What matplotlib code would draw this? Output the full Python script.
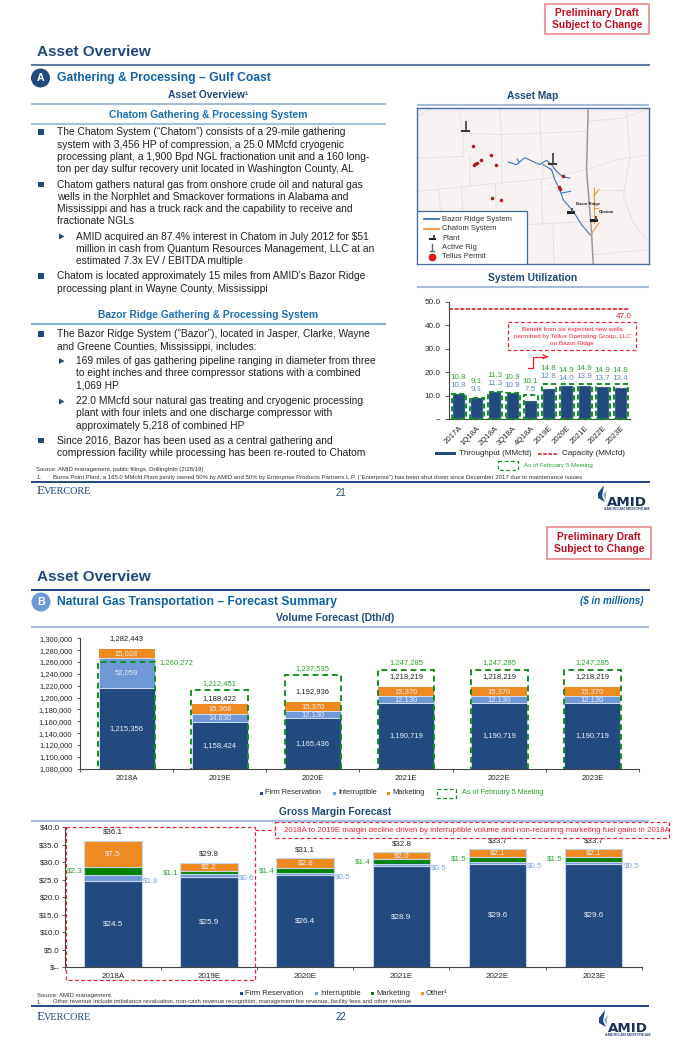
import matplotlib
matplotlib.use("Agg")
import matplotlib.pyplot as plt
from matplotlib.patches import Circle, Polygon, Rectangle

plt.rcParams["font.family"] = ["Liberation Sans", "DejaVu Sans"]

NAVY = "#234a7f"
HEAD = "#1f497d"
TITLE = "#0f62a6"
SUB = "#1b70b3"
GREEN = "#2fa12f"
DGREEN = "#15901f"
RED = "#ee2233"
ORANGE = "#ee8a22"
LBLUE = "#6f98d6"
MGREEN = "#008000"
RULE = "#5d7ea8"
LRULE = "#a7bcd8"
TEXT = "#262626"

# system utilization
util_cats = ["2017A", "1Q18A", "2Q18A", "3Q18A", "4Q18A", "2019E", "2020E", "2021E", "2022E", "2023E"]
util_now = [10.8, 9.1, 11.3, 10.9, 7.5, 12.8, 14.0, 13.9, 13.7, 13.4]
util_feb = [10.8, 9.1, 11.3, 10.9, 10.1, 14.8, 14.9, 14.9, 14.9, 14.8]
util_capacity = 47.0
util_lift = [16.5, 16.5, 16.5, 15.5, 13.5, 16, 14, 16, 14, 14]

# volume forecast
vol_cats = ["2018A", "2019E", "2020E", "2021E", "2022E", "2023E"]
vol_firm = [1215356, 1158424, 1165436, 1190719, 1190719, 1190719]
vol_inter = [52059, 14630, 12130, 12130, 12130, 12130]
vol_mkt = [15028, 15368, 15370, 15370, 15370, 15370]
vol_total = [1282443, 1188422, 1192936, 1218219, 1218219, 1218219]
vol_feb = [1260272, 1212451, 1237535, 1247285, 1247285, 1247285]
vol_lift = [10, 5.5, 10, 10, 10, 10]
vol_ticks = list(range(1080000, 1300001, 20000))

# gross margin
gm_cats = ["2018A", "2019E", "2020E", "2021E", "2022E", "2023E"]
gm_firm = [24.5, 25.9, 26.4, 28.9, 29.6, 29.6]
gm_inter = [1.8, 0.6, 0.5, 0.5, 0.5, 0.5]
gm_mkt = [2.3, 1.1, 1.4, 1.4, 1.5, 1.5]
gm_other = [7.5, 2.2, 2.8, 2.0, 2.1, 2.1]
gm_total = [36.1, 29.8, 31.1, 32.8, 33.7, 33.7]

# map sketch, in map pixels
map_borders = [
    [(52, 80), (100, 55)], [(175, 55), (190, 130), (190, 200), (52, 205)],
    [(190, 130), (300, 135), (420, 130), (560, 125)], [(300, 55), (305, 135), (307, 280)],
    [(420, 55), (422, 130), (430, 265)], [(210, 200), (212, 290)],
    [(52, 305), (300, 280), (430, 268), (556, 240)], [(118, 300), (122, 365)],
    [(185, 295), (190, 365)], [(287, 283), (290, 400), (382, 405), (575, 395)],
    [(425, 268), (428, 400)], [(460, 405), (462, 523)], [(565, 95), (672, 85), (740, 60)],
    [(680, 60), (690, 200), (670, 320), (700, 400), (748, 460)],
    [(560, 240), (650, 210), (748, 195)], [(580, 495), (748, 480)], [(600, 300), (670, 300)],
]
map_gray = [(565, 55), (560, 240), (575, 430), (580, 523)]
map_bazor = [
    [(325, 217), (350, 225), (375, 204), (420, 225), (440, 212), (455, 225), (470, 245), (490, 262), (510, 265)],
    [(430, 225), (455, 240), (465, 270), (480, 300), (490, 330), (520, 365), (545, 405), (572, 437)],
    [(485, 310), (512, 305)], [(352, 208), (358, 218)],
]
map_chatom = [
    [(572, 437), (597, 400)], [(582, 400), (582, 295)], [(582, 318), (597, 300)], [(582, 355), (595, 355)],
]
map_permit_x = [220, 273, 245, 233, 226, 222, 290, 277, 304, 488, 478, 480]
map_permit_y = [169, 195, 210, 221, 224, 225, 227, 325, 332, 260, 293, 298]
map_rigs = [(198, 115), (458, 212)]
map_plants = [(512, 368), (582, 392)]

body_lines = [
    (132, "The Chatom System (“Chatom”) consists of a 29-mile gathering", 1),
    (144.5, "system with 3,456 HP of compression, a 25.0 MMcfd cryogenic", 0),
    (157, "processing plant, a 1,900 Bpd NGL fractionation unit and a 160 long-", 0),
    (169.5, "ton per day sulfur recovery unit located in Washington County, AL", 0),
    (184.5, "Chatom gathers natural gas from onshore crude oil and natural gas", 1),
    (197, "wells in the Norphlet and Smackover formations in Alabama and", 0),
    (209, "Mississippi and has a truck rack and the capability to receive and", 0),
    (221.5, "fractionate NGLs", 0),
    (236.5, "AMID acquired an 87.4% interest in Chatom in July 2012 for $51", 2),
    (248.5, "million in cash from Quantum Resources Management, LLC at an", 3),
    (261, "estimated 7.3x EV / EBITDA multiple", 3),
    (276, "Chatom is located approximately 15 miles from AMID’s Bazor Ridge", 1),
    (288.5, "processing plant in Wayne County, Mississippi", 0),
    (334, "The Bazor Ridge System (“Bazor”), located in Jasper, Clarke, Wayne", 1),
    (346.5, "and Greene Counties, Mississippi, includes:", 0),
    (361, "169 miles of gas gathering pipeline ranging in diameter from three", 2),
    (373.5, "to eight inches and three compressor stations with a combined", 3),
    (386, "1,069 HP", 3),
    (401.5, "22.0 MMcfd sour natural gas treating and cryogenic processing", 2),
    (413.5, "plant with four inlets and one discharge compressor with", 3),
    (426, "approximately 5,218 of combined HP", 3),
    (440.5, "Since 2016, Bazor has been used as a central gathering and", 1),
    (453, "compression facility while processing has been re-routed to Chatom", 0),
]

fig = plt.figure(figsize=(6.8, 10.5), dpi=100, facecolor="white")


def make_ax(x0, y0, x1, y1):
    return fig.add_axes([x0 / 680, 1 - y1 / 1050, (x1 - x0) / 680, (y1 - y0) / 1050])


def label(ax, txt, x, y, dx=0, dy=0, **kw):
    # dx, dy in pixels, dy up
    kw.setdefault("ha", "center")
    kw.setdefault("va", "center")
    ax.annotate(txt, (x, y), xytext=(dx * 0.72, dy * 0.72), textcoords="offset points",
                annotation_clip=False, **kw)


# page overlay, in pixels
page = make_ax(0, 0, 680, 1050)
page.set_xlim(0, 680)
page.set_ylim(1050, 0)
page.axis("off")
page.set_zorder(5)


def put(x, y, s, size=7.35, color=TEXT, ha="left", weight="normal", **kw):
    page.text(x, y, s, fontsize=size, color=color, ha=ha, va="center", fontweight=weight, **kw)


def rule(x0, x1, y, color=RULE, lw=1.5):
    page.plot([x0, x1], [y, y], color=color, lw=lw, solid_capstyle="butt")


def draft_box(x0, y0, x1, y1):
    page.add_patch(Rectangle((x0, y0), x1 - x0, y1 - y0, fc="white", ec="#e58a8a", lw=1.2))
    mid = (x0 + x1) / 2
    put(mid, y0 + 9.8, "Preliminary Draft", 7.4, "#c00d1e", "center", "bold")
    put(mid, y0 + 22, "Subject to Change", 7.4, "#c00d1e", "center", "bold")


def footer_brand(y, num):
    put(37, y, "E", 9.5, HEAD, family="Liberation Serif")
    put(43.5, y + 0.5, "VERCORE", 7.4, HEAD, family="Liberation Serif")
    put(341, y + 1, num, 7.0, HEAD, "center")


def logo(x, y):
    # flame and wordmark
    page.add_patch(Polygon([(x + 7, y), (x + 1, y + 8), (x + 1, y + 13), (x + 8, y + 17),
                            (x + 5, y + 11), (x + 6, y + 6)], fc=HEAD, ec="none"))
    page.add_patch(Polygon([(x + 10, y + 5), (x + 6, y + 10), (x + 9, y + 15), (x + 9, y + 9)],
                           fc="#8fa9cf", ec="none"))
    put(x + 30, y + 18, "AMID", 9.6, "#1a2f5a", "center", "bold", family="DejaVu Sans")
    put(x + 30, y + 24.5, "AMERICAN MIDSTREAM", 2.8, "#34507c", "center", "bold")


def dash_box(x0, y0, x1, y1, color=DGREEN):
    page.add_patch(Rectangle((x0, y0), x1 - x0, y1 - y0, fc="none", ec=color, lw=0.9, ls=(0, (3, 2))))


# page 1 header
draft_box(545, 3.5, 649, 34)
put(37, 52, "Asset Overview", 11.0, HEAD, weight="bold")
rule(31, 650, 65)
page.add_patch(Circle((40.5, 78), 9.5, fc=NAVY, ec="none"))
put(40.5, 78, "A", 7.6, "white", "center", "bold")
put(57, 78, "Gathering & Processing – Gulf Coast", 8.75, TITLE, weight="bold")
put(208, 95, "Asset Overview¹", 7.4, HEAD, "center", "bold")
rule(31, 386, 104, LRULE)
put(208, 115, "Chatom Gathering & Processing System", 7.4, SUB, "center", "bold")
rule(31, 386, 124, "#9cc5e2")
put(208, 314.5, "Bazor Ridge Gathering & Processing System", 7.4, SUB, "center", "bold")
rule(31, 386, 323.5, "#7fb0d8")
put(533, 96, "Asset Map", 7.4, HEAD, "center", "bold")
rule(417, 649, 105, LRULE)
put(533, 278, "System Utilization", 7.4, HEAD, "center", "bold")
rule(417, 649, 287, LRULE)

for y, s, kind in body_lines:
    if kind == 1:
        page.add_patch(Rectangle((38, y - 3), 5.5, 5.5, fc=NAVY, ec="none"))
    if kind == 2:
        page.add_patch(Polygon([(59, y - 3), (59, y + 3), (64.5, y)], fc=NAVY, ec="none"))
    put(76 if kind >= 2 else 56.7, y, s, color="#222222")

put(36, 470, "Source: AMID management, public filings, DrillingInfo (2/28/19)", 4.3, "#333333")
put(37, 477.5, "1.", 4.3, "#333333")
put(53, 477.5, "Burns Point Plant, a 165.0 MMcfd Plant jointly owned 50% by AMID and 50% by Enterprise Products "
    "Partners L.P. (“Enterprise”) has been shut down since December 2017 due to maintenance issues",
    4.3, "#333333")
rule(31, 650, 481.5, NAVY, 1.4)
footer_brand(491.5, "21")
logo(597, 485)

# map
mp = make_ax(417, 108, 649.3, 264)
mp.set_xlim(52, 748)
mp.set_ylim(523, 55)
mp.set_facecolor("#f7f2f1")
mp.set_xticks([])
mp.set_yticks([])
for s in mp.spines.values():
    s.set_color("#4a6f9f")
    s.set_linewidth(1.0)
for line in map_borders:
    mp.plot([p[0] for p in line], [p[1] for p in line], color="#e4e0e0", lw=0.7)
mp.plot([p[0] for p in map_gray], [p[1] for p in map_gray], color="#9a9a9a", lw=1.1)
for line in map_bazor:
    mp.plot([p[0] for p in line], [p[1] for p in line], color="#3f74b8", lw=0.8)
for line in map_chatom:
    mp.plot([p[0] for p in line], [p[1] for p in line], color="#ee9a3a", lw=0.8)
mp.scatter(map_permit_x, map_permit_y, s=5, color="#d0101c", edgecolor="#7a2020", linewidth=0.3, zorder=4)
for x, y in map_rigs:
    mp.plot([x, x], [y - 18, y + 10], color="#555555", lw=1.4, zorder=4)
    mp.plot([x - 10, x + 10], [y + 10, y + 10], color="#333333", lw=1.4, zorder=4)
for x, y in map_plants:
    mp.add_patch(Rectangle((x - 12, y - 4), 24, 8, fc="#222222", ec="none", zorder=4))
    mp.add_patch(Rectangle((x + 2, y - 14), 6, 12, fc="#555555", ec="none", zorder=4))
mp.text(527, 344, "Bazor Ridge", fontsize=3.0, color="#222222", va="center", fontweight="bold")
mp.text(597, 368, "Chatom", fontsize=3.0, color="#222222", va="center", fontweight="bold")
mp.add_patch(Rectangle((52, 365), 330, 158, fc="white", ec="#3f6aa0", lw=0.9, zorder=5))
mp.plot([72, 118], [389, 389], color="#2f62ad", lw=1.2, zorder=6)
mp.plot([72, 118], [417, 417], color="#ee8a22", lw=1.2, zorder=6)
mp.add_patch(Rectangle((88, 445), 22, 7, fc="#222222", ec="none", zorder=6))
mp.add_patch(Rectangle((100, 436), 6, 10, fc="#555555", ec="none", zorder=6))
mp.plot([97, 97], [462, 482], color="#666666", lw=1, zorder=6)
mp.plot([90, 104], [484, 484], color="#666666", lw=1, zorder=6)
mp.scatter([97], [503], s=26, color="#ee1111", edgecolor="#8a1a1a", linewidth=0.4, zorder=6)
for yy, t in zip([389, 417, 445, 473, 501],
                 ["Bazor Ridge System", "Chatom System", "Plant", "Active Rig", "Tellus Permit"]):
    mp.text(128, yy, t, fontsize=5.5, color="#333333", va="center", zorder=6)

# system utilization
ax1 = make_ax(449, 301.7, 630, 419)
x1 = list(range(len(util_cats)))
ax1.set_xlim(-0.54, 9.52)
ax1.set_ylim(0, 50)
ax1.bar(x1, util_now, width=0.66, color=NAVY, edgecolor="#9fb6d6", linewidth=0.3, zorder=2)
ax1.bar(x1, util_feb, width=0.78, facecolor="none", edgecolor=DGREEN, linewidth=1.4,
        linestyle=(0, (2.6, 1.6)), zorder=3, clip_on=False)
ax1.plot([-0.54, 9.52], [util_capacity, util_capacity], color="#d81420", lw=1.1, ls=(0, (2.6, 1.1)))
for i in x1:
    label(ax1, f"{util_feb[i]:.1f}", i, util_feb[i], dy=util_lift[i], fontsize=5.8, color=GREEN)
    label(ax1, f"{util_now[i]:.1f}", i, util_feb[i], dy=util_lift[i] - 8, fontsize=5.8, color="#6187bd")
label(ax1, f"{util_capacity:.1f}", 9.52, util_capacity, dx=2, dy=-8, fontsize=5.9, color="#cc2233", ha="right")
ax1.set_xticks(x1)
ax1.set_xticklabels(util_cats, rotation=45, ha="right", rotation_mode="anchor", fontsize=5.6, color=TEXT)
ax1.set_yticks([0, 10, 20, 30, 40, 50])
ax1.set_yticklabels(["--", "10.0", "20.0", "30.0", "40.0", "50.0"], fontsize=5.9, color=TEXT)
ax1.tick_params(axis="y", length=3, width=0.6, pad=3, color="#444444")
ax1.tick_params(axis="x", length=0, pad=4)
for s in ["top", "right"]:
    ax1.spines[s].set_visible(False)
ax1.spines["left"].set_color("#444444")
ax1.spines["bottom"].set_color("#444444")
ax1.patch.set_alpha(0)

dash_box(508, 321.7, 636, 350, RED)
for yy, t in zip([329, 336.5, 343.5], ["Benefit from six expected new wells",
                                       "permitted by Tellus Operating Group, LLC", "on Bazor Ridge"]):
    put(572, yy, t, 4.6, RED, "center")
page.plot([527.5, 533, 533, 546], [368, 368, 356.7, 356.7], color=RED, lw=0.9)
page.annotate("", xy=(551, 356.7), xytext=(544, 356.7),
              arrowprops=dict(arrowstyle="->", color=RED, lw=0.9, mutation_scale=7))
page.add_patch(Rectangle((435, 452), 21, 3.4, fc=NAVY, ec="none"))
put(459, 453.7, "Throughput (MMcfd)", 5.8)
page.plot([538, 558], [453.7, 453.7], color="#d81420", lw=1.1, ls=(0, (2.4, 1)))
put(562, 453.7, "Capacity (MMcfd)", 5.8)
dash_box(498, 461, 518, 470)
put(524, 466, "As of February 5 Meeting", 4.4, GREEN)

# page 2 header
draft_box(547, 527, 651, 559)
put(37, 577, "Asset Overview", 11.0, HEAD, weight="bold")
rule(31, 650, 589.5, NAVY, 1.5)
page.add_patch(Circle((41, 602), 9.5, fc=LBLUE, ec="none"))
put(41, 602, "B", 7.6, "white", "center", "bold")
put(57, 602.5, "Natural Gas Transportation – Forecast Summary", 8.75, TITLE, weight="bold")
put(644, 601.5, "($ in millions)", 7.1, TITLE, "right", "bold", style="italic")
put(335, 618, "Volume Forecast (Dth/d)", 7.4, HEAD, "center", "bold")
rule(31, 649, 626.5, LRULE)
put(335, 812, "Gross Margin Forecast", 7.4, HEAD, "center", "bold")
rule(31, 649, 821, LRULE)

# volume forecast
ax2 = make_ax(80, 638.3, 639, 768.7)
x2 = list(range(len(vol_cats)))
ax2.set_xlim(-0.5, 5.5)
ax2.set_ylim(1080000, 1300000)
inter_bottom = [a + b for a, b in zip(vol_firm, vol_inter)]
ax2.bar(x2, vol_firm, width=0.6, color=NAVY, edgecolor="#d8e2f0", linewidth=0.6, zorder=2)
ax2.bar(x2, vol_inter, bottom=vol_firm, width=0.6, color=LBLUE, edgecolor="#d8e2f0", linewidth=0.6, zorder=2)
ax2.bar(x2, vol_mkt, bottom=inter_bottom, width=0.6, color=ORANGE, zorder=2)
ax2.bar(x2, vol_feb, width=0.61, facecolor="none", edgecolor=DGREEN, linewidth=1.4,
        linestyle=(0, (3, 2)), zorder=3)
for i in x2:
    lab = dict(fontsize=5.5, color="#e8eef6")
    label(ax2, f"{vol_firm[i]:,}", i, 1080000 + (vol_firm[i] - 1080000) / 2, **lab)
    label(ax2, f"{vol_inter[i]:,}", i, vol_firm[i] + vol_inter[i] / 2, **lab)
    label(ax2, f"{vol_mkt[i]:,}", i, inter_bottom[i] + vol_mkt[i] / 2, **lab)
    label(ax2, f"{vol_total[i]:,}", i, vol_total[i], dy=vol_lift[i], fontsize=5.5, color="#222222")
    if i == 0:
        label(ax2, f"{vol_feb[i]:,}", i, vol_feb[i], dx=50, dy=-1, fontsize=5.5, color=GREEN)
    else:
        label(ax2, f"{vol_feb[i]:,}", i, vol_feb[i], dy=7, fontsize=5.5, color=GREEN)
ax2.set_yticks(vol_ticks)
ax2.set_yticklabels([f"{v:,}" for v in vol_ticks], fontsize=5.4, color=TEXT)
ax2.set_xticks([i - 0.5 for i in range(7)])
ax2.set_xticklabels([])
ax2.set_xticks(x2, minor=True)
ax2.set_xticklabels(vol_cats, minor=True, fontsize=5.6, color=TEXT)
ax2.tick_params(axis="x", which="minor", length=0, pad=4.5)
ax2.tick_params(axis="x", which="major", length=2.5, width=0.6, color="#444444")
ax2.tick_params(axis="y", length=2.5, width=0.6, pad=3, color="#444444")
for s in ["top", "right"]:
    ax2.spines[s].set_visible(False)
ax2.spines["left"].set_color("#444444")
ax2.spines["bottom"].set_color("#444444")
ax2.patch.set_alpha(0)


def legend_item(x, y, color, s, size=5.3):
    page.add_patch(Rectangle((x - 1.5, y - 1.5), 3, 3, fc=color, ec="none"))
    put(x + 4, y, s, size)


legend_item(261, 793, NAVY, "Firm Reservation")
legend_item(334, 793, LBLUE, "Interruptible")
legend_item(388, 793, ORANGE, "Marketing")
dash_box(436.7, 788.5, 455.7, 797.5)
put(461.7, 793, "As of February 5 Meeting", 5.2, GREEN)

# gross margin
ax3 = make_ax(65, 827.3, 641.7, 967)
x3 = list(range(len(gm_cats)))
ax3.set_xlim(-0.5, 5.5)
ax3.set_ylim(0, 40)
b1 = gm_firm
b2 = [a + b for a, b in zip(b1, gm_inter)]
b3 = [a + b for a, b in zip(b2, gm_mkt)]
edge = "#c4d4ea"
ax3.bar(x3, gm_firm, width=0.6, color=NAVY, edgecolor=edge, linewidth=0.8, zorder=2)
ax3.bar(x3, gm_inter, bottom=b1, width=0.6, color=LBLUE, edgecolor=edge, linewidth=0.8, zorder=2)
ax3.bar(x3, gm_mkt, bottom=b2, width=0.6, color=MGREEN, edgecolor=edge, linewidth=0.8, zorder=2)
ax3.bar(x3, gm_other, bottom=b3, width=0.6, color=ORANGE, edgecolor=edge, linewidth=0.8, zorder=2)
for i in x3:
    lab = dict(fontsize=5.8, color="#eef2f8")
    label(ax3, f"${gm_firm[i]:.1f}", i, gm_firm[i] / 2, **lab)
    label(ax3, f"${gm_other[i]:.1f}", i, b3[i] + gm_other[i] / 2, **lab)
    label(ax3, f"${gm_total[i]:.1f}", i, gm_total[i], dy=8.5, fontsize=5.7, color="#222222")
    label(ax3, f"${gm_mkt[i]:.1f}", i - 0.3, b2[i] + gm_mkt[i] / 2, dx=-2, fontsize=5.8, color=GREEN, ha="right")
    label(ax3, f"${gm_inter[i]:.1f}", i + 0.3, b1[i] + gm_inter[i] / 2, dx=1, dy=-3, fontsize=5.8,
          color="#7ea4dc", ha="left")
gm_ticks = [0, 5, 10, 15, 20, 25, 30, 35, 40]
ax3.set_yticks(gm_ticks)
ax3.set_yticklabels(["$--"] + [f"${v:.1f}" for v in gm_ticks[1:]], fontsize=5.8, color=TEXT)
ax3.set_xticks([i - 0.5 for i in range(7)])
ax3.set_xticklabels([])
ax3.set_xticks(x3, minor=True)
ax3.set_xticklabels(gm_cats, minor=True, fontsize=5.8, color=TEXT)
ax3.tick_params(axis="x", which="minor", length=0, pad=4)
ax3.tick_params(axis="x", which="major", length=2.5, width=0.6, color="#444444")
ax3.tick_params(axis="y", length=2.5, width=0.6, pad=1.5, color="#444444")
for s in ["top", "right"]:
    ax3.spines[s].set_visible(False)
ax3.spines["left"].set_color("#444444")
ax3.spines["bottom"].set_color("#444444")
ax3.patch.set_alpha(0)

dash_box(66, 827.3, 255.3, 980, RED)
page.plot([255.3, 275.3], [830, 830], color=RED, lw=0.9, ls=(0, (3, 2)))
dash_box(275.3, 822, 669, 838.3, RED)
put(284, 830, "2018A to 2019E margin decline driven by interruptible volume and non-recurring marketing "
    "fuel gains in 2018A", 5.65, RED)

legend_item(241, 993.7, NAVY, "Firm Reservation", 5.5)
legend_item(316, 993.7, LBLUE, "Interruptible", 5.5)
legend_item(372.5, 993.7, MGREEN, "Marketing", 5.5)
legend_item(422, 993.7, ORANGE, "Other¹", 5.5)
put(37, 995, "Source: AMID management", 4.3, "#333333")
put(37, 1002, "1.", 4.3, "#333333")
put(52.7, 1002, "Other revenue include imbalance revaluation, non-cash revenue recognition, management fee "
    "revenue, facility fees and other revenue", 4.3, "#333333")
rule(31, 649, 1006, NAVY, 1.4)
footer_brand(1016.5, "22")
logo(598, 1010)

plt.savefig("out.png", dpi=100)
